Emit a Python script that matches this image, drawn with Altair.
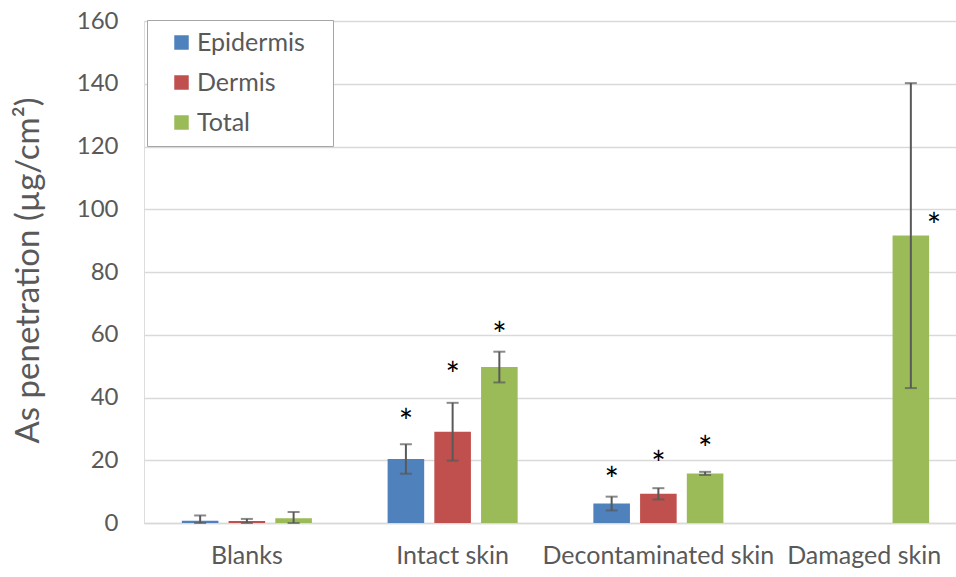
import altair as alt
import pandas as pd

categories = ["Blanks", "Intact skin", "Decontaminated skin", "Damaged skin"]
series = ["Epidermis", "Dermis", "Total"]
colors = ["#4F81BD", "#C0504D", "#9BBB59"]

epidermis_mean = [0.7, 20.4, 6.2, None]
epidermis_sd = [1.7, 4.7, 2.2, None]
dermis_mean = [0.6, 29.1, 9.3, None]
dermis_sd = [0.7, 9.2, 1.8, None]
total_mean = [1.5, 49.7, 15.8, 91.6]
total_sd = [2.0, 4.9, 0.5, 48.6]

# asterisk (significance) label heights, None = no mark
epidermis_star = [None, 34.5, 16.0, None]
dermis_star = [None, 49.4, 21.1, None]
total_star = [None, 62.0, 25.9, 97.0]

rows = []
for s, m, sd, st in [
    ("Epidermis", epidermis_mean, epidermis_sd, epidermis_star),
    ("Dermis", dermis_mean, dermis_sd, dermis_star),
    ("Total", total_mean, total_sd, total_star),
]:
    for c, mv, sv, sy in zip(categories, m, sd, st):
        if mv is None:
            continue
        rows.append(dict(category=c, series=s, mean=mv,
                         lo=max(0.0, mv - sv), hi=mv + sv, star=sy,
                         side=(c == "Damaged skin")))
df = pd.DataFrame(rows)

FONT = "Lato"
GRAY = "#595959"

x = alt.X("category:N", sort=categories, title=None,
          scale=alt.Scale(paddingInner=0, paddingOuter=0, range=[0, 823]),
          axis=alt.Axis(labelAngle=0, labelFontSize=25, labelColor=GRAY, labelFont=FONT,
                        labelPadding=20, labelLimit=0, labelOverlap=False, ticks=False,
                        domainColor="#d9d9d9", domainWidth=1.5))
xo = alt.XOffset("series:N", sort=series,
                 scale=alt.Scale(domain=series, paddingInner=0.217, paddingOuter=0.81))

base = alt.Chart(df)

bars = base.mark_bar().encode(
    x=x, xOffset=xo,
    y=alt.Y("mean:Q", scale=alt.Scale(domain=[0, 160]),
            title="As penetration (µg/cm²)",
            axis=alt.Axis(values=list(range(0, 161, 20)), labelFontSize=24, labelColor=GRAY,
                          labelFont=FONT, labelPadding=26, ticks=False, domain=False,
                          gridColor="#d9d9d9", gridWidth=1.5,
                          titleFontSize=33, titleColor=GRAY, titleFont=FONT, titleFontWeight="normal",
                          titleX=-116, titleY=249, titleAngle=-90, titleAlign="center",
                          titleBaseline="middle")),
    color=alt.Color("series:N", sort=series,
                    scale=alt.Scale(domain=series, range=colors),
                    legend=alt.Legend(title=None, orient="none", legendX=3, legendY=-1,
                                      symbolType="square", symbolSize=210, symbolStrokeWidth=0,
                                      labelFontSize=25, labelFont=FONT, labelColor=GRAY,
                                      labelOffset=3, symbolOffset=12, rowPadding=14,
                                      padding=10, strokeColor="#a6a6a6", fillColor="white",
                                      labelLimit=0,
                                      labelExpr="datum.label + '\u2800'")),
)

rules = base.mark_rule(color=GRAY, strokeWidth=2).encode(
    x=x, xOffset=xo, y="lo:Q", y2="hi:Q")

caps_hi = base.mark_tick(color=GRAY, thickness=2, size=12, orient="horizontal").encode(
    x=x, xOffset=xo, y="hi:Q")
caps_lo = base.mark_tick(color=GRAY, thickness=2, size=12, orient="horizontal").encode(
    x=x, xOffset=xo, y="lo:Q")

stars = base.transform_filter("datum.star != null && !datum.side").mark_text(
    text="*", fontSize=34, font=FONT, color="black", baseline="middle", dy=9).encode(
    x=x, xOffset=xo, y="star:Q")
stars_side = base.transform_filter("datum.star != null && datum.side").mark_text(
    text="*", fontSize=34, font=FONT, color="black", baseline="middle", dx=23, dy=9).encode(
    x=x, xOffset=xo, y="star:Q")

chart = alt.layer(bars, rules, caps_hi, caps_lo, stars, stars_side).properties(
    width=812, height=502,
    autosize=alt.AutoSizeParams(type="none"),
    padding={"left": 144, "top": 21, "right": 0, "bottom": 54},
).configure_view(stroke=None).configure(font=FONT)

chart.save("out.html", embed_options={"renderer": "svg", "actions": False})
